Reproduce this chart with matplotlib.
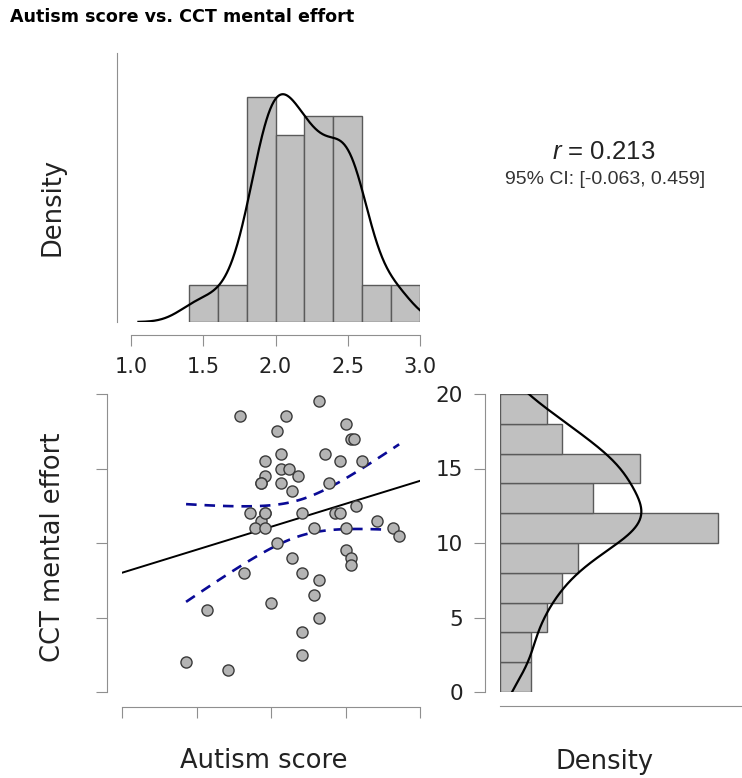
import numpy as np
import matplotlib
matplotlib.use("Agg")
import matplotlib.pyplot as plt

plt.rcParams['font.family'] = ['DejaVu Sans']
plt.rcParams['mathtext.fontset'] = 'custom'
plt.rcParams['mathtext.rm'] = 'Liberation Sans'
plt.rcParams['mathtext.it'] = 'Liberation Sans:italic'

# data (x = autism score, y = CCT mental effort)
autism = [1.79, 2.10, 2.32, 2.04, 2.50, 2.54, 2.56, 2.07, 2.36, 1.96,
          2.46, 2.61, 2.07, 2.12, 1.96, 2.18, 1.93, 2.07, 2.14, 2.39,
          1.86, 1.96, 2.21, 2.43, 2.46, 2.57, 1.93, 1.89, 1.96, 2.29,
          2.50, 2.71, 2.82, 2.86, 2.04, 2.50, 2.54, 2.54, 2.14, 1.82,
          2.21, 2.32, 2.29, 2.00, 1.57, 2.32, 2.21, 2.21, 1.43, 1.71,
          1.96, 1.93]
effort = [18.5, 18.5, 19.5, 17.5, 18.0, 17.0, 17.0, 16.0, 16.0, 15.5,
          15.5, 15.5, 15.0, 15.0, 14.5, 14.5, 14.0, 14.0, 13.5, 14.0,
          12.0, 12.0, 12.0, 12.0, 12.0, 12.5, 11.5, 11.0, 11.0, 11.0,
          11.0, 11.5, 11.0, 10.5, 10.0, 9.5, 9.0, 8.5, 9.0, 8.0,
          8.0, 7.5, 6.5, 6.0, 5.5, 5.0, 4.0, 2.5, 2.0, 1.5,
          12.0, 14.0]
x_edges = [1.4, 1.6, 1.8, 2.0, 2.2, 2.4, 2.6, 2.8, 3.0]
y_edges = [0, 2, 4, 6, 8, 10, 12, 14, 16, 18, 20]
x_ticks = [1.0, 1.5, 2.0, 2.5, 3.0]
y_ticks = [0, 5, 10, 15, 20]
r_text = "$r$ = 0.213"
ci_text = "95% CI: [-0.063, 0.459]"

x = np.array(autism)
y = np.array(effort)
n = len(x)

W, H = 742, 778
GRAY = '#8f8f8f'


def hist_density(v, edges):
    # right-closed bins like R's hist()
    edges = np.array(edges, dtype=float)
    idx = np.searchsorted(edges, v, side='left') - 1
    idx = np.clip(idx, 0, len(edges) - 2)
    counts = np.bincount(idx, minlength=len(edges) - 1)
    w = np.diff(edges)
    return edges, counts / (len(v) * w), w


def kde(v):
    sd = np.std(v, ddof=1)
    iqr = np.subtract(*np.percentile(v, [75, 25]))
    bw = 0.9 * min(sd, iqr / 1.34) * len(v) ** -0.2
    g = np.linspace(v.min() - 3 * bw, v.max() + 3 * bw, 512)
    d = np.exp(-0.5 * ((g[:, None] - v[None, :]) / bw) ** 2).sum(1)
    d /= len(v) * bw * np.sqrt(2 * np.pi)
    return g, d


def box(l, t, r, b):
    return [l / W, 1 - b / H, (r - l) / W, (b - t) / H]


fig = plt.figure(figsize=(W / 100, H / 100), dpi=100)

# top histogram
ax_t = fig.add_axes(box(131, 53, 420, 322))
e, dens, w = hist_density(x, x_edges)
ax_t.bar(e[:-1], dens, width=w, align='edge', color='#c0c0c0',
         edgecolor='#5a5a5a', linewidth=1)
g, d = kde(x)
ax_t.plot(g, d, color='black', lw=1.6)
ax_t.set_xlim(1, 3)
ax_t.set_ylim(0, 1.38)
for s in ['top', 'right']:
    ax_t.spines[s].set_visible(False)
ax_t.spines['left'].set_position(('outward', 10))
ax_t.spines['bottom'].set_position(('outward', 9.4))
ax_t.spines['bottom'].set_bounds(1, 3)
for s in ['left', 'bottom']:
    ax_t.spines[s].set_color(GRAY)
ax_t.set_yticks([])
ax_t.set_xticks(x_ticks)
ax_t.set_xticklabels([f'{t:.1f}' for t in x_ticks])
ax_t.tick_params(axis='x', length=8, color=GRAY, labelsize=15, pad=8,
                 labelcolor='#222222')

# scatter
ax_s = fig.add_axes(box(122, 394, 420, 692))
slope, icpt = np.polyfit(x, y, 1)
xl = np.linspace(1, 3, 100)
ax_s.plot(xl, icpt + slope * xl, color='black', lw=1.4, zorder=3)
xc = np.linspace(x.min(), x.max(), 100)
resid = y - (icpt + slope * x)
s_res = np.sqrt((resid ** 2).sum() / (n - 2))
se = s_res * np.sqrt(1 / n + (xc - x.mean()) ** 2 / ((x - x.mean()) ** 2).sum())
t_crit = 2.009
fit = icpt + slope * xc
for band in [fit + t_crit * se, fit - t_crit * se]:
    ax_s.plot(xc, band, color='#0a0a96', lw=1.9, dashes=(4, 3), zorder=3)
ax_s.scatter(x, y, s=64, facecolor='#b4b4b4', edgecolor='#3a3a3a',
             linewidth=1, zorder=4, clip_on=False)
ax_s.set_xlim(1, 3)
ax_s.set_ylim(0, 20)
for s in ['top', 'right']:
    ax_s.spines[s].set_visible(False)
ax_s.spines['left'].set_position(('outward', 10.8))
ax_s.spines['bottom'].set_position(('outward', 10.8))
for s in ['left', 'bottom']:
    ax_s.spines[s].set_color(GRAY)
ax_s.set_xticks(x_ticks)
ax_s.set_yticks(y_ticks)
ax_s.set_xticklabels([])
ax_s.set_yticklabels([])
ax_s.tick_params(length=8, color=GRAY)

# right histogram
ax_r = fig.add_axes(box(500, 394, 742, 692))
e, dens, w = hist_density(y, y_edges)
ax_r.barh(e[:-1], dens, height=w, align='edge', color='#c0c0c0',
          edgecolor='#5a5a5a', linewidth=1)
g, d = kde(y)
ax_r.plot(d, g, color='black', lw=1.6)
ax_r.set_ylim(0, 20)
ax_r.set_xlim(0, 0.1495)
for s in ['top', 'right']:
    ax_r.spines[s].set_visible(False)
ax_r.spines['left'].set_position(('outward', 10.8))
ax_r.spines['bottom'].set_position(('outward', 10))
for s in ['left', 'bottom']:
    ax_r.spines[s].set_color(GRAY)
ax_r.set_xticks([])
ax_r.set_yticks(y_ticks)
ax_r.tick_params(axis='y', length=8, color=GRAY, labelsize=15.5, pad=8,
                 labelcolor='#222222')

# texts
fig.text(10 / W, 1 - 17 / H, "Autism score vs. CCT mental effort",
         fontsize=12.6, fontweight='bold', va='center', ha='left')
fig.text(53 / W, 1 - 207 / H, "Density", rotation=90, fontsize=18.5,
         va='center', ha='center', color='#222222')
fig.text(53 / W, 1 - 547 / H, "CCT mental effort", rotation=90,
         fontsize=18.5, va='center', ha='center', color='#222222')
fig.text(264 / W, 1 - 761 / H, "Autism score", fontsize=18.5,
         va='center', ha='center', color='#222222')
fig.text(605 / W, 1 - 762 / H, "Density", fontsize=18.5,
         va='center', ha='center', color='#222222')
fig.text(604 / W, 1 - 152 / H, r_text, fontsize=18.5, family='Liberation Sans',
         va='center', ha='center', color='#222222')
fig.text(605 / W, 1 - 180 / H, ci_text, fontsize=14, family='Liberation Sans',
         va='center', ha='center', color='#333333')

fig.savefig('out.png', dpi=100)
